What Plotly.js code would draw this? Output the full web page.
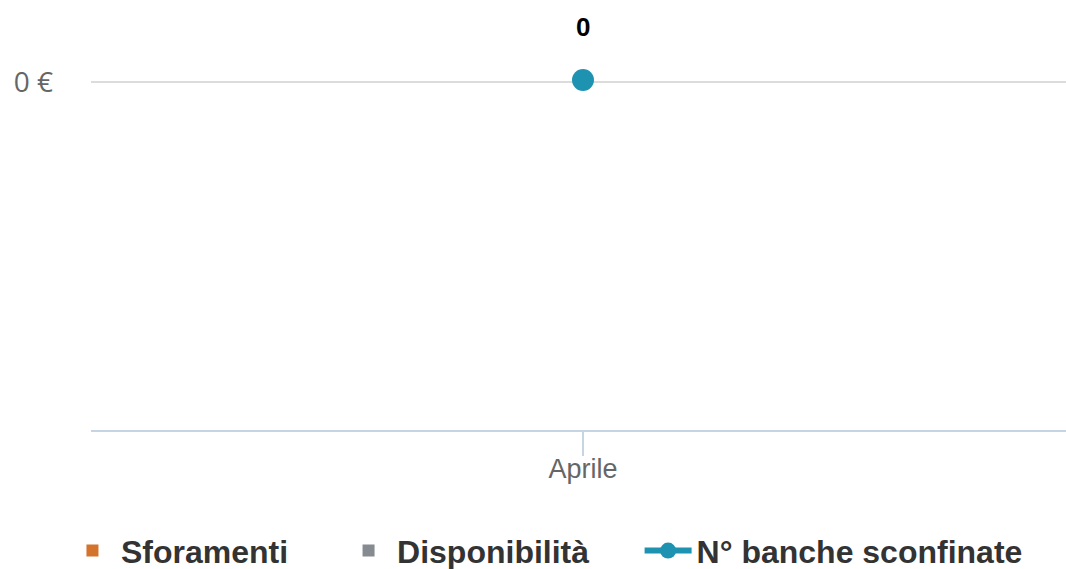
<!DOCTYPE html>
<html>
<head>
<meta charset="utf-8">
<script src="https://cdn.plot.ly/plotly-3.0.1.min.js"></script>
<style>html,body{margin:0;padding:0;background:#fff;}#chart{width:1066px;height:569px;}</style>
</head>
<body>
<div id="chart"></div>
<script>
const categories = ["Aprile"];
const sforamenti = [0];
const disponibilita = [0];
const bancheSconfinate = [0];
const yTickVals = [0];
const yTickText = ["0 €"];

const traces = [
  {type: "bar", name: "Sforamenti", x: categories, y: sforamenti, legend: "legend",
   marker: {color: "#d4732b", line: {width: 0}}, hoverinfo: "x+y"},
  {type: "bar", name: "Disponibilità", x: categories, y: disponibilita, legend: "legend2",
   marker: {color: "#868a91", line: {width: 0}}, hoverinfo: "x+y"},
  {type: "scatter", mode: "lines+markers", name: "N° banche sconfinate", legend: "legend3",
   x: categories, y: bancheSconfinate, yaxis: "y2",
   line: {color: "#1e93b1", width: 6},
   marker: {color: "#1e93b1", size: 22}}
];

const annotations = categories.map((c, i) => ({
  x: c, y: bancheSconfinate[i], xref: "x", yref: "y2",
  text: "<b>" + bancheSconfinate[i] + "</b>", showarrow: false,
  yshift: 53, font: {family: "Liberation Sans, Arial, sans-serif", size: 26, color: "#000"}
}));

const legendFont = {family: "Liberation Sans, Arial, sans-serif", size: 32, color: "#333333", weight: "bold"};
function legendAt(x) {
  return {orientation: "h", xref: "container", yref: "container",
    x: x, xanchor: "left", y: 0.032, yanchor: "middle",
    itemwidth: 47, font: legendFont, bgcolor: "rgba(0,0,0,0)"};
}

const layout = {
  width: 1066, height: 569,
  margin: {l: 91, r: 0, t: 10, b: 139},
  paper_bgcolor: "#fff", plot_bgcolor: "#fff",
  barmode: "group",
  showlegend: true,
  legend: legendAt(0.06),
  legend2: legendAt(0.319),
  legend3: legendAt(0.6),
  xaxis: {type: "category", range: [-0.5046, 0.4954], showgrid: false, zeroline: false,
    showline: true, linecolor: "#c6d4e4", linewidth: 2,
    ticks: "outside", ticklen: 24, tickwidth: 2, tickcolor: "#c6d4e4",
    ticklabelstandoff: -10,
    tickfont: {family: "Liberation Sans, Arial, sans-serif", size: 27, color: "#666666"}},
  yaxis: {range: [-1, 0.2069], tickvals: yTickVals, ticktext: yTickText,
    showgrid: true, gridcolor: "#dcdcdc", gridwidth: 2, zeroline: false,
    ticklabelstandoff: 37,
    tickfont: {family: "Open Sans, sans-serif", size: 28, color: "#666666"}},
  yaxis2: {overlaying: "y", range: [-1, 0.2], visible: false, showgrid: false, zeroline: false},
  annotations: annotations
};

Plotly.newPlot("chart", traces, layout, {displayModeBar: false, staticPlot: true});
</script>
</body>
</html>
